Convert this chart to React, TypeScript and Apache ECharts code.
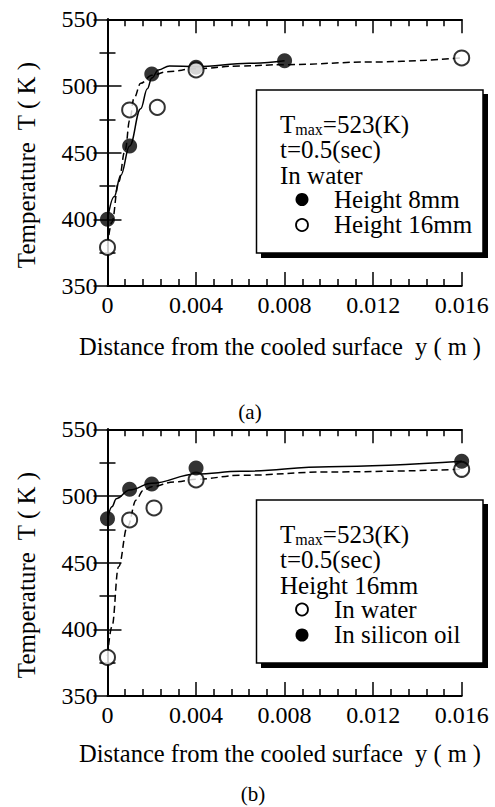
import React, { useEffect, useRef } from "react";
import * as echarts from "echarts";

// ---- Data ----
// (a) In water
const a8mmX = [0, 0.001, 0.002, 0.004, 0.008];
const a8mmT = [400, 455, 509, 514, 519];
const a16mmX = [0, 0.001, 0.00225, 0.004, 0.016];
const a16mmT = [379, 482, 484, 512, 521];
// fitted curves (a)
const aSolidX = [0, 0.0003, 0.0006, 0.001, 0.0015, 0.0018, 0.002, 0.0023, 0.0028, 0.004, 0.0064, 0.008];
const aSolidT = [400, 417, 433, 455, 483, 498, 506, 512, 515, 514.5, 517, 519];
const aDashX = [0, 0.0002, 0.0005, 0.0008, 0.001, 0.0012, 0.0015, 0.002, 0.0027, 0.004, 0.006, 0.008, 0.012, 0.016];
const aDashT = [380, 398, 428, 452, 474, 491, 502, 508, 510.7, 513, 515, 516, 518, 521];

// (b) Height 16mm
const bWaterX = [0, 0.001, 0.0021, 0.004, 0.016];
const bWaterT = [379, 482, 491, 512, 520];
const bOilX = [0, 0.001, 0.002, 0.004, 0.016];
const bOilT = [483, 505, 509, 521, 526];
// fitted curves (b)
const bSolidX = [0, 0.0002, 0.0004, 0.001, 0.002, 0.004, 0.006, 0.01, 0.016];
const bSolidT = [482, 492, 498, 504.5, 509.5, 516.5, 518.5, 522, 526];
const bDashX = [0, 0.0002, 0.0005, 0.0009, 0.0013, 0.0016, 0.002, 0.003, 0.004, 0.006, 0.01, 0.016];
const bDashT = [380, 402, 447, 477, 497, 504, 507, 510.5, 512.5, 515.5, 518, 520];

const xMin = 0;
const xMax = 0.016;
const xStep = 0.004;
const yMin = 350;
const yMax = 550;
const yStep = 50;

const yTitle = "Temperature  T ( K )";
const xTitle = "Distance from the cooled surface  y ( m )";
const legendA = { line1: "t=0.5(sec)", line2: "In water", item1: "Height 8mm", item2: "Height 16mm" };
const legendB = { line1: "t=0.5(sec)", line2: "Height 16mm", item1: "In water", item2: "In silicon oil" };

const FONT = "Liberation Serif";
const zip = (xs: number[], ys: number[]) => xs.map((x, i) => [x, ys[i]]);
const legendTops = [90, 500];

export default function App() {
  const ref = useRef<HTMLDivElement>(null);
  useEffect(() => {
    if (!ref.current) return;
    const chart = echarts.init(ref.current, null, { renderer: "svg" });
    const gridTops = [19.3, 429.3];
    const grids = gridTops.map((t) => ({ left: 107.5, top: t, width: 354.2, height: 266.7, containLabel: false }));

    const tickLine = { color: "#000", width: 1.5 };
    const xAxes: any[] = [];
    const yAxes: any[] = [];
    [0, 1].forEach((g) => {
      xAxes.push({
        type: "value", gridIndex: g, position: "bottom", min: xMin, max: xMax, interval: xStep,
        axisLine: { lineStyle: { color: "#000", width: 2 } },
        axisTick: { inside: true, length: 14, lineStyle: tickLine },
        minorTick: { show: true, splitNumber: 5, length: 7, lineStyle: tickLine },
        splitLine: { show: false }, minorSplitLine: { show: false },
        axisLabel: {
          margin: 7, fontFamily: FONT, fontSize: 24, color: "#000",
          formatter: (v: number) => (v === 0 ? "0" : v.toFixed(3)),
        },
      });
      xAxes.push({
        type: "value", gridIndex: g, position: "top", min: xMin, max: xMax, interval: xStep,
        axisLine: { lineStyle: { color: "#000", width: 2 } },
        axisTick: { inside: true, length: 14, lineStyle: tickLine },
        minorTick: { show: true, splitNumber: 5, length: 7, lineStyle: tickLine },
        splitLine: { show: false }, axisLabel: { show: false },
      });
      yAxes.push({
        type: "value", gridIndex: g, position: "left", min: yMin, max: yMax, interval: yStep,
        axisLine: { lineStyle: { color: "#000", width: 2 } },
        axisTick: { inside: true, length: 14, lineStyle: tickLine },
        minorTick: { show: true, splitNumber: 2, length: 8, lineStyle: tickLine },
        splitLine: { show: false },
        axisLabel: { margin: 10, fontFamily: FONT, fontSize: 24, color: "#000" },
      });
      yAxes.push({
        type: "value", gridIndex: g, position: "right", min: yMin, max: yMax, interval: yStep,
        axisLine: { lineStyle: { color: "#000", width: 2 } },
        axisTick: { inside: true, length: 14, lineStyle: tickLine },
        minorTick: { show: true, splitNumber: 2, length: 8, lineStyle: tickLine },
        splitLine: { show: false }, axisLabel: { show: false },
      });
    });

    const curve = (g: number, xs: number[], ys: number[], dashed: boolean) => ({
      type: "line", xAxisIndex: g * 2, yAxisIndex: g * 2, data: zip(xs, ys),
      smooth: 0.4, smoothMonotone: "x", showSymbol: false, symbol: "none", clip: false, z: 3,
      lineStyle: { color: "#000", width: 1.5, type: dashed ? [7, 4] : "solid" },
    });
    const pts = (g: number, xs: number[], ys: number[], filled: boolean, z: number) => ({
      type: "scatter", xAxisIndex: g * 2, yAxisIndex: g * 2, data: zip(xs, ys),
      symbol: "circle", symbolSize: 15, clip: false, z,
      itemStyle: filled
        ? { color: "#000", borderColor: "#000", borderWidth: 0 }
        : { color: "#fff", borderColor: "#000", borderWidth: 2 },
    });

    const series = [
      curve(0, aSolidX, aSolidT, false),
      curve(0, aDashX, aDashT, true),
      pts(0, a8mmX, a8mmT, true, 4),
      pts(0, a16mmX, a16mmT, false, 5),
      curve(1, bSolidX, bSolidT, false),
      curve(1, bDashX, bDashT, true),
      pts(1, bWaterX, bWaterT, false, 4),
      pts(1, bOilX, bOilT, true, 5),
    ];

    const txt = (id: string, text: string, x: number, y: number, size: number) => ({
      type: "text", id, x, y, z: 102,
      style: { text, fill: "#000", font: `${size}px "${FONT}"`, lineHeight: 20, align: "left", verticalAlign: "middle" },
    });

    const legendBox = (p: string, dy: number, lg: any, firstFilled: boolean) => {
      const els: any[] = [
        { type: "rect", id: p + "box", z: 101, shape: { x: 256.5, y: 90 + dy, width: 226.5, height: 163 }, style: { fill: "#fff", stroke: "#000", lineWidth: 1.5 } },
        {
          type: "text", id: p + "tmax", x: 280, y: 126 + dy, z: 102,
          style: {
            text: "{a|T}{b|max}{a|=523(K)}", fill: "#000", align: "left", verticalAlign: "middle",
            rich: {
              a: { fontFamily: FONT, fontSize: 25, lineHeight: 22, fill: "#000", verticalAlign: "bottom" },
              b: { fontFamily: FONT, fontSize: 16, lineHeight: 12, fill: "#000", verticalAlign: "bottom" },
            },
          },
        },
        txt(p + "l1", lg.line1, 280, 149 + dy, 25),
        txt(p + "l2", lg.line2, 280, 175 + dy, 25),
        txt(p + "i1", lg.item1, 334, 199 + dy, 25),
        txt(p + "i2", lg.item2, 334, 224 + dy, 25),
      ];
      const mk = (id: string, cy: number, filled: boolean) => ({
        type: "circle", id, z: 102, shape: { cx: 302, cy, r: filled ? 6.5 : 6 },
        style: filled ? { fill: "#000" } : { fill: "#fff", stroke: "#000", lineWidth: 1.8 },
      });
      els.push(mk(p + "m1", 199.5 + dy, firstFilled));
      els.push(mk(p + "m2", 225 + dy, !firstFilled));
      return els;
    };

    const bigText = (id: string, text: string, x: number, y: number, size: number, rot = 0) => ({
      type: "text", id, x, y, rotation: rot, z: 102,
      style: { text, fill: "#000", font: `${size}px "${FONT}"`, align: "center", verticalAlign: "middle" },
    });

    const graphic: any[] = [
      ...legendBox("A", 0, legendA, true),
      ...legendBox("B", 410, legendB, false),
      bigText("yt1", yTitle, 26, 165, 25, Math.PI / 2),
      bigText("yt2", yTitle, 26, 575, 25, Math.PI / 2),
      bigText("xt1", xTitle, 280, 346, 24.5),
      bigText("xt2", xTitle, 280, 753, 24.5),
      bigText("ca", "(a)", 250, 412, 21),
      bigText("cb", "(b)", 253, 794, 21),
    ];

    chart.setOption({
      animation: false,
      backgroundColor: "transparent",
      grid: grids,
      xAxis: xAxes,
      yAxis: yAxes,
      series,
      graphic: { elements: graphic },
    });
    return () => chart.dispose();
  }, []);
  return (
    <div style={{ position: "fixed", left: 0, top: 0, width: 495, height: 807, background: "#fff" }}>
      {legendTops.map((t) => (
        <div
          key={t}
          style={{ position: "absolute", left: 261, top: t + 4, width: 226.6, height: 163.6, background: "#000" }}
        />
      ))}
      <div ref={ref} style={{ position: "absolute", left: 0, top: 0, width: 495, height: 807 }} />
    </div>
  );
}
